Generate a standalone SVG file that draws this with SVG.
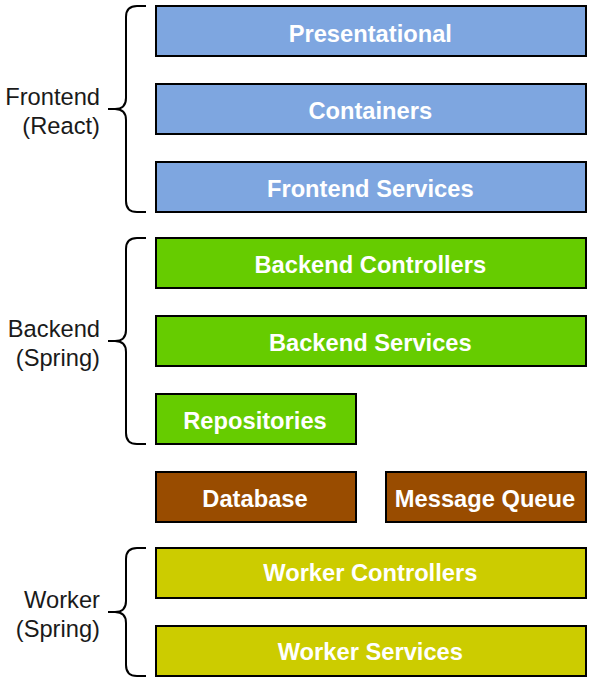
<svg xmlns="http://www.w3.org/2000/svg" width="592" height="682" viewBox="0 0 592 682">
<style>
.box{stroke:#000;stroke-width:2}
.fe{fill:#7EA6E0}.be{fill:#66CC00}.st{fill:#994C00}.wk{fill:#CCCC00}
.t{font-family:"Liberation Sans",Arial,sans-serif;font-size:23.7px;font-weight:bold;fill:#fff;text-anchor:middle}
.l{font-family:"Liberation Sans",Arial,sans-serif;font-size:23.7px;fill:#1a1a1a;text-anchor:end}
.br{fill:none;stroke:#000;stroke-width:2}
</style>
<rect width="592" height="682" fill="#fff"/>
<g id="braces">
<path class="br" d="M146,6 L137,6 Q126,6 126,17 L126,98 Q126,109 115,109 L108,109 M115,109 Q126,109 126,120 L126,201 Q126,212 137,212 L146,212"/>
<path class="br" d="M146,238 L137,238 Q126,238 126,249 L126,330 Q126,341 115,341 L108,341 M115,341 Q126,341 126,352 L126,433 Q126,444 137,444 L146,444"/>
<path class="br" d="M146,548 L137,548 Q126,548 126,559 L126,601 Q126,612 115,612 L108,612 M115,612 Q126,612 126,623 L126,665 Q126,676 137,676 L146,676"/>
</g>
<g id="label-frontend"><text class="l" x="100" y="105">Frontend</text><text class="l" x="100" y="134">(React)</text></g>
<g id="label-backend"><text class="l" x="100" y="337">Backend</text><text class="l" x="100" y="366">(Spring)</text></g>
<g id="label-worker"><text class="l" x="100" y="608">Worker</text><text class="l" x="100" y="637">(Spring)</text></g>
<g id="presentational"><rect class="box fe" x="156" y="6" width="430" height="50"/><text class="t" x="370.3" y="41.5">Presentational</text></g>
<g id="containers"><rect class="box fe" x="156" y="84" width="430" height="50"/><text class="t" x="370.3" y="119">Containers</text></g>
<g id="frontend-services"><rect class="box fe" x="156" y="162" width="430" height="50"/><text class="t" x="370.3" y="197">Frontend Services</text></g>
<g id="backend-controllers"><rect class="box be" x="156" y="238" width="430" height="50"/><text class="t" x="370.3" y="272.7">Backend Controllers</text></g>
<g id="backend-services"><rect class="box be" x="156" y="316" width="430" height="50"/><text class="t" x="370.3" y="350.7">Backend Services</text></g>
<g id="repositories"><rect class="box be" x="156" y="394" width="200" height="50"/><text class="t" x="255" y="429">Repositories</text></g>
<g id="database"><rect class="box st" x="156" y="472" width="200" height="50"/><text class="t" x="255" y="506.7">Database</text></g>
<g id="message-queue"><rect class="box st" x="386" y="472" width="200" height="50"/><text class="t" x="485" y="506.7">Message Queue</text></g>
<g id="worker-controllers"><rect class="box wk" x="156" y="548" width="430" height="50"/><text class="t" x="370.3" y="581">Worker Controllers</text></g>
<g id="worker-services"><rect class="box wk" x="156" y="626" width="430" height="50"/><text class="t" x="370.3" y="660">Worker Services</text></g>
</svg>
